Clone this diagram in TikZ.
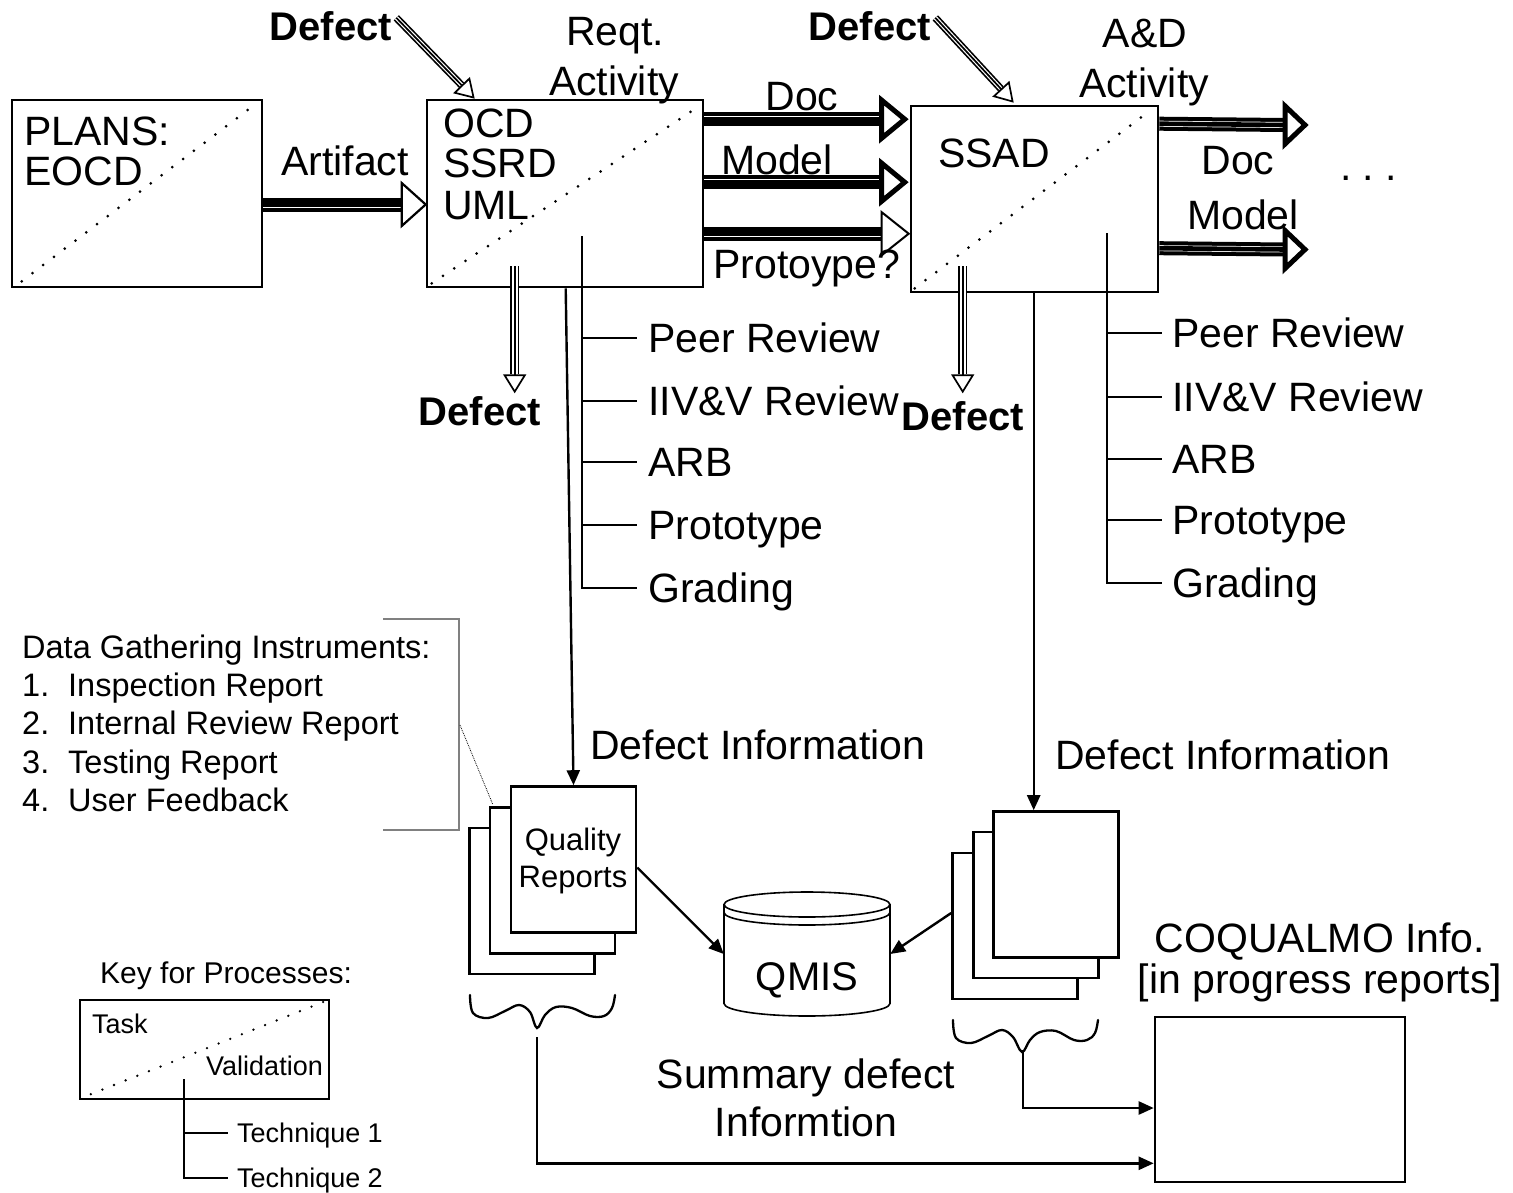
\documentclass[tikz,border=0pt]{standalone}
\usepackage{fontspec}
\setmainfont{Liberation Sans}
\usetikzlibrary{arrows.meta,calc}
\newcommand\fsz[1]{\fontsize{#1}{#1}\selectfont}
% fat horizontal arrow: start, tip, triangle line width, triangle length, half width
\newcommand\fatarrow[5]{%
  \draw[fatshaft] (#1) -- ($(#2)+(-#4,0)$);
  \draw[line width=#3,fill=white,line join=miter] ($(#2)+(-#4,-#5)$) -- (#2) -- ($(#2)+(-#4,#5)$) -- cycle;}
% triple-line arrow with hollow head: start, tip, inner gap
\newcommand\triarrow[3]{%
  \draw[line width=1.7pt,double distance=#3,shorten >=19pt] (#1) -- (#2);
  \draw[line width=1.7pt,shorten >=19pt] (#1) -- (#2);
  \draw[line width=1.7pt,-{Triangle[fill=white,length=19pt,width=23pt]}] ($(#2)!19pt!(#1)$) -- (#2);}
\begin{document}
\begin{tikzpicture}[x=1pt,y=-1pt,
 bx/.style={draw,line width=2.6pt,inner sep=0pt},
 lbl/.style={inner sep=0pt,font=\fsz{41}},
 bld/.style={inner sep=0pt,font=\fsz{40}\bfseries},
 diag/.style={line width=3pt,line cap=round,dash pattern=on 0pt off 13.5pt},
 wire/.style={line width=2.4pt},
 pg/.style={draw,line width=2.6pt,fill=white,minimum width=125pt,minimum height=146pt,inner sep=0pt},
 fatshaft/.style={line width=14pt,postaction={draw=white,line width=0.7pt,double=black,double distance=4.6pt}},
 arr/.style={-{Triangle[length=15pt,width=13pt]}},
 tech/.style={inner sep=0pt,font=\fsz{41},anchor=west,text height=29.4pt,text depth=0pt},
 ktech/.style={inner sep=0pt,font=\fsz{27},anchor=west,text height=19.4pt,text depth=0pt},
 cyl/.style={line width=1.6pt},
]
\fill[white] (0,0) rectangle (1513,1192);
\useasboundingbox (0,0) rectangle (1513,1192);

% ---------- main process boxes ----------
\node[bx,minimum width=250pt,minimum height=187pt] (plans) at (137,193.5) {};
\node[bx,minimum width=276pt,minimum height=187pt] (reqt) at (565,193.5) {};
\node[bx,minimum width=247pt,minimum height=186pt] (ssad) at (1034.5,199) {};

\draw[diag] ($(plans.south west)+(11,-7)$) -- ($(plans.north east)+(-6,4)$);
\draw[diag] ($(reqt.south west)+(6,-5)$) -- ($(reqt.north east)+(-6,8)$);
\draw[diag] ($(ssad.south west)+(5,-5)$) -- ($(ssad.north east)+(-8,5)$);

\node[lbl,anchor=base west] (plansA) at (24,145) {PLANS:};
\node[lbl,anchor=base west] (plansB) at (24,185) {EOCD};
\node[lbl,anchor=base west] (ocd) at (443,137) {OCD};
\node[lbl,anchor=base west] (ssrd) at (443,177) {SSRD};
\node[lbl,anchor=base west] (uml) at (443,219) {UML};
\node[lbl,anchor=base west] (ssadt) at (938,167) {SSAD};

\node[lbl,anchor=base] (rq1) at (615,45) {Reqt.};
\node[lbl,anchor=base] (rq2) at (614,95) {Activity};
\node[lbl,anchor=base] (ad1) at (1145,47) {A\&D};
\node[lbl,anchor=base] (ad2) at (1144,97) {Activity};

% ---------- fat artifact arrows ----------
\coordinate (a1s) at ($(plans.east)+(0,11)$);
\coordinate (a1t) at ($(reqt.west)+(0,11)$);
\fatarrow{a1s}{a1t}{2.2pt}{24}{21.5}
\node[lbl,anchor=base] (artl) at (345,175) {Artifact};

\coordinate (b1s) at ($(reqt.north east)+(0,20.5)$);
\coordinate (b1t) at ($(ssad.north west)+(-5,14.5)$);
\fatarrow{b1s}{b1t}{5pt}{23}{19}
\coordinate (b2s) at ($(reqt.north east)+(0,83.5)$);
\coordinate (b2t) at ($(ssad.north west)+(-5,77.5)$);
\fatarrow{b2s}{b2t}{5pt}{23}{19}
\coordinate (b3s) at ($(reqt.north east)+(0,135)$);
\coordinate (b3t) at ($(ssad.north west)+(-1,129)$);
\fatarrow{b3s}{b3t}{2pt}{27}{21.5}
\node[lbl,anchor=base] (doc1) at (802,110) {Doc};
\node[lbl,anchor=base west] (mod1) at (721,174) {Model};
\node[lbl,anchor=base west] (proto) at (713,278) {Protoype?};

\coordinate (c1s) at ($(ssad.north east)+(0,19)$);
\coordinate (c1t) at (1305,125);
\fatarrow{c1s}{c1t}{5pt}{20}{19}
\coordinate (c2s) at ($(ssad.north east)+(0,143.5)$);
\coordinate (c2t) at (1305,249.5);
\fatarrow{c2s}{c2t}{5pt}{20}{19}
\node[lbl,anchor=base] (doc2) at (1238,174) {Doc};
\node[lbl,anchor=base] (mod2) at (1243,229) {Model};
\node[lbl,anchor=base west] (dots) at (1340,180) {.\ .\ .};

% ---------- defect arrows ----------
\node[bld,anchor=base] (dfa) at (331,40) {Defect};
\node[bld,anchor=base] (dfb) at (870,40) {Defect};
\node[bld,anchor=base] (dfc) at (480,425) {Defect};
\node[bld,anchor=base] (dfd) at (963,430) {Defect};
\coordinate (d1s) at ($(dfa.north east)+(4,7)$);
\coordinate (d1t) at ($(reqt.north west)+(49,0)$);
\triarrow{d1s}{d1t}{4pt}
\coordinate (d2s) at ($(dfb.north east)+(4,7)$);
\coordinate (d2t) at ($(ssad.north west)+(104,-2)$);
\triarrow{d2s}{d2t}{4pt}
\coordinate (d3s) at ($(reqt.south west)+(89,-22)$);
\coordinate (d3t) at ($(reqt.south west)+(89,105)$);
\triarrow{d3s}{d3t}{6pt}
\coordinate (d4s) at ($(ssad.south west)+(53,-27)$);
\coordinate (d4t) at ($(ssad.south west)+(53,100)$);
\triarrow{d4s}{d4t}{6pt}

% ---------- validation techniques ----------
\coordinate (lA) at ($(reqt.south west)+(156,-52)$);
\node[tech] (lp1) at (648,338) {Peer Review};
\node[tech] (lp2) at (648,401) {IIV\&V Review};
\node[tech] (lp3) at (648,462) {ARB};
\node[tech] (lp4) at (648,525) {Prototype};
\node[tech] (lp5) at (648,588) {Grading};
\draw[wire] (lA) |- ($(lp5.west)+(-11,0)$);
\foreach \n in {lp1,lp2,lp3,lp4} \draw[wire] (lA |- \n.west) -- ($(\n.west)+(-11,0)$);

\coordinate (rA) at ($(ssad.south west)+(197,-60)$);
\node[tech] (rp1) at (1172,333) {Peer Review};
\node[tech] (rp2) at (1172,397) {IIV\&V Review};
\node[tech] (rp3) at (1172,459) {ARB};
\node[tech] (rp4) at (1172,520) {Prototype};
\node[tech] (rp5) at (1172,583) {Grading};
\draw[wire] (rA) |- ($(rp5.west)+(-10,0)$);
\foreach \n in {rp1,rp2,rp3,rp4} \draw[wire] (rA |- \n.west) -- ($(\n.west)+(-10,0)$);

% ---------- data gathering ----------
\draw[gray,line width=1.3pt] (383,619) -- (459,619) -- (459,830) -- (383,830);
\coordinate (dgA) at (460,725);
\node[inner sep=0pt,font=\fsz{32.5},anchor=base west] (dg0) at (22,658) {Data Gathering Instruments:};
\node[inner sep=0pt,font=\fsz{32.5},anchor=base west] (dg1) at (22,696) {\makebox[46pt][l]{1.}Inspection Report};
\node[inner sep=0pt,font=\fsz{32.5},anchor=base west] (dg2) at (22,734) {\makebox[46pt][l]{2.}Internal Review Report};
\node[inner sep=0pt,font=\fsz{32.5},anchor=base west] (dg3) at (22,773) {\makebox[46pt][l]{3.}Testing Report};
\node[inner sep=0pt,font=\fsz{32.5},anchor=base west] (dg4) at (22,811) {\makebox[46pt][l]{4.}User Feedback};

% ---------- quality reports ----------
\node[pg] (qr1c) at (532,901) {};
\node[pg] (qr1b) at (552.5,880.5) {};
\node[pg] (qr1) at (573.5,859.5) {};
\node[inner sep=0pt,font=\fsz{31},anchor=base] (qrt1) at (573,850) {Quality};
\node[inner sep=0pt,font=\fsz{31},anchor=base] (qrt2) at (573,887) {Reports};
\draw[densely dotted,line width=0.8pt] (dgA) -- ($(qr1b.north west)+(4,-2)$);

\node[pg] (qr2c) at (1015,926) {};
\node[pg] (qr2b) at (1036,905) {};
\node[pg] (qr2) at (1056,884.5) {};

\coordinate (rq) at ($(reqt.south west)+(140,0)$);
\draw[wire,arr] (rq) -- (qr1.north);
\coordinate (sd) at ($(ssad.south west)+(124,0)$);
\draw[wire,arr] (sd) -- (sd |- qr2.north);
\node[lbl,anchor=base west] (dil) at (590,759) {Defect Information};
\node[lbl,anchor=base west] (dir) at (1055,769) {Defect Information};

% ---------- QMIS ----------
\draw[cyl] (724,904.5) -- (724,1003.5) .. controls (724,1010.4) and (761.2,1016) .. (807,1016) .. controls (852.8,1016) and (890,1010.4) .. (890,1003.5) -- (890,904.5);
\draw[cyl] (807,904.5) ellipse [x radius=83pt,y radius=12.5pt];
\draw[cyl] (724,912.5) .. controls (724,919.4) and (761.2,925) .. (807,925) .. controls (852.8,925) and (890,919.4) .. (890,912.5);
\node[inner sep=0pt,minimum width=166pt,minimum height=124pt] (qmis) at (807,954) {};
\node[inner sep=0pt,font=\fsz{40},anchor=base] (qmist) at (807,990) {QMIS};
\draw[wire,arr] ($(qr1.east)+(0,8)$) -- (qmis.west);
\draw[wire,arr] ($(qr2c.west)+(0,-13)$) -- (qmis.east);

% ---------- braces and COQUALMO ----------
\draw[line width=2.3pt,line cap=round] plot[smooth,tension=0.6] coordinates {(470,995) (473,1013) (488,1018) (505,1011) (519,1005) (530,1012) (537,1028) (545,1015) (556,1007) (572,1008) (590,1016) (604,1016) (612,1008) (615,995)};
\draw[line width=2.3pt,line cap=round] plot[smooth,tension=0.6] coordinates {(953,1020) (956,1038) (971,1043) (988,1036) (1002,1030) (1013,1037) (1022,1052) (1030,1040) (1040,1032) (1056,1031) (1074,1040) (1087,1040) (1095,1033) (1098,1020)};
\coordinate (br1) at (537,1037);
\coordinate (br2) at (1023,1050);
\node[bx,minimum width=250pt,minimum height=165pt] (coq) at (1280,1099.5) {};
\draw[wire,arr] (br1) |- ($(coq.south west)+(0,-20)$);
\draw[wire,arr] (br2) |- ($(coq.west)+(0,8.5)$);
\node[lbl,anchor=base] (coq1) at (1320,952) {COQUALMO Info.};
\node[lbl,anchor=base] (coq2) at (1320,993) {[in progress reports]};
\node[lbl,anchor=base] (sum1) at (806,1088) {Summary defect};
\node[lbl,anchor=base] (sum2) at (806,1136) {Informtion};

% ---------- key ----------
\node[inner sep=0pt,font=\fsz{30},anchor=base west] (keyt) at (100,983) {Key for Processes:};
\node[bx,line width=2.4pt,minimum width=249pt,minimum height=99pt] (key) at (204.5,1049.5) {};
\draw[diag,line width=2.6pt,dash pattern=on 0pt off 12.5pt] ($(key.south west)+(12,-6)$) -- ($(key.north east)+(-4,2)$);
\node[inner sep=0pt,font=\fsz{27},anchor=base west] (task) at (92,1033) {Task};
\node[inner sep=0pt,font=\fsz{27},anchor=base east] (valid) at (323,1075) {Validation};
\coordinate (kA) at ($(key.south west)+(105,-21)$);
\node[ktech] (kt1) at (237,1133) {Technique 1};
\node[ktech] (kt2) at (237,1178) {Technique 2};
\draw[wire,line width=2.1pt] (kA) |- ($(kt2.west)+(-9,0)$);
\draw[wire,line width=2.1pt] (kA |- kt1.west) -- ($(kt1.west)+(-9,0)$);
\end{tikzpicture}
\end{document}
